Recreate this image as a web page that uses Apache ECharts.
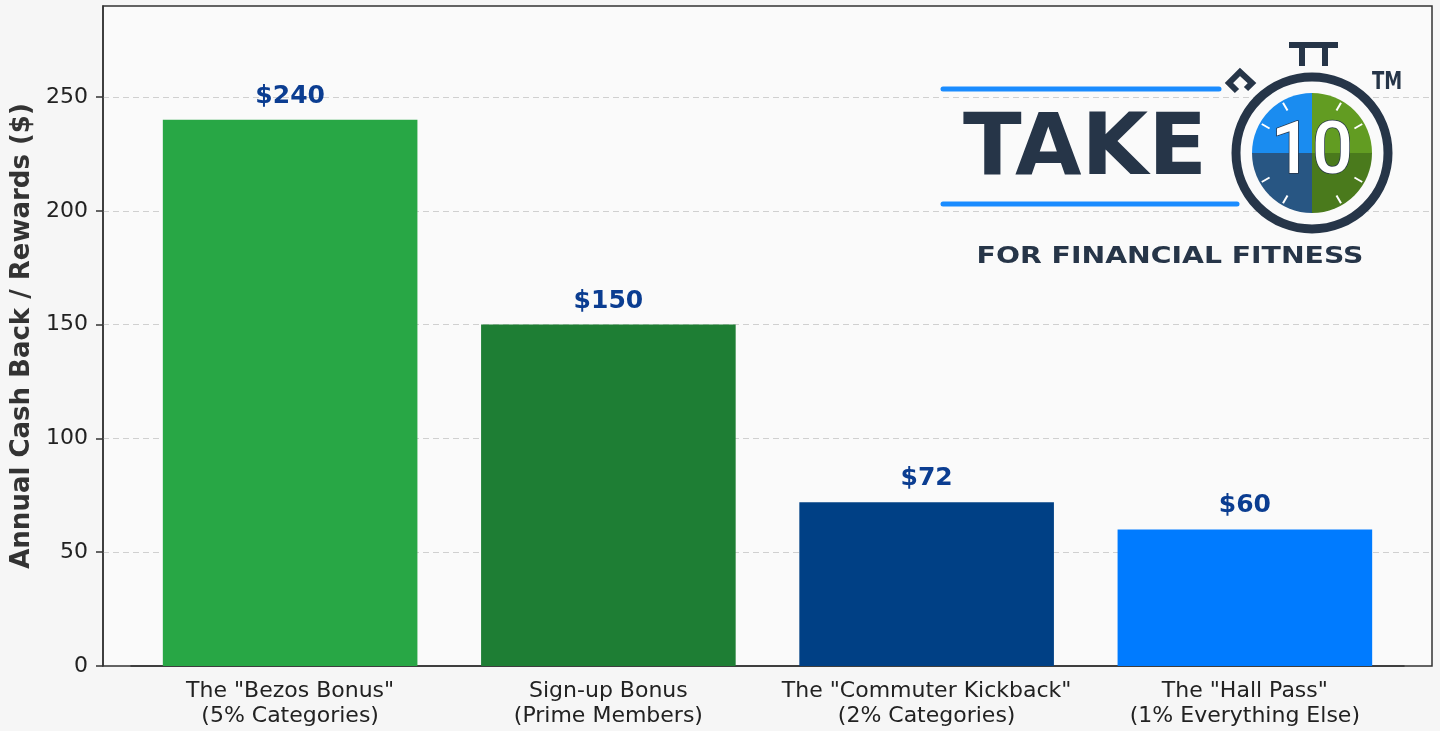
<!DOCTYPE html>
<html>
<head>
    <meta charset="utf-8">
    <title>Cash Back</title>
    <script src="https://cdn.jsdelivr.net/npm/echarts@6/dist/echarts.min.js"></script>
    <style>
        html, body { margin: 0; padding: 0; background: #f6f6f6; }
        #main { width: 1440px; height: 731px; }
    </style>
</head>
<body>
<div id="main"></div>
<script type="text/javascript">
// data
var categories = [
    'The "Bezos Bonus"\n(5% Categories)',
    'Sign-up Bonus\n(Prime Members)',
    'The "Commuter Kickback"\n(2% Categories)',
    'The "Hall Pass"\n(1% Everything Else)'
];
var rewards = [240, 150, 72, 60];
var barColors = ['#28a745', '#1e7e34', '#004085', '#007bff'];
var yTicks = [0, 50, 100, 150, 200, 250];
var yMax = 290;

var font = 'DejaVu Sans';
var dark = '#263548';

// logo: stopwatch ticks every 30 deg (skip the quadrant lines)
var cx = 1312, cy = 153;
var logoTicks = [];
[30, 60, 120, 150, 210, 240, 300, 330].forEach(function (a) {
    var r = a * Math.PI / 180;
    logoTicks.push({
        type: 'line', z: 12,
        shape: { x1: cx + Math.sin(r) * 49, y1: cy - Math.cos(r) * 49, x2: cx + Math.sin(r) * 58, y2: cy - Math.cos(r) * 58 },
        style: { stroke: '#ffffff', lineWidth: 2 }
    });
});

var myChart = echarts.init(document.getElementById('main'));

var option = {
    backgroundColor: '#f6f6f6',
    animation: false,
    grid: [
        { left: 131, right: 36, top: 6, bottom: 65 },
        { left: 103, right: 8, top: 6, bottom: 65, show: true, backgroundColor: '#fafafa', borderColor: '#333', borderWidth: 1.5 }
    ],
    xAxis: [{
        type: 'category',
        gridIndex: 0,
        data: categories,
        axisLine: { show: true, lineStyle: { color: '#333', width: 1.5 } },
        axisTick: { alignWithLabel: true, length: 6, lineStyle: { color: '#333', width: 1.5 } },
        axisLabel: { interval: 0, color: '#222', fontSize: 22, fontFamily: font, lineHeight: 25, margin: 13 }
    }, {
        type: 'value', gridIndex: 1, min: 0, max: 1, show: false
    }],
    yAxis: [{
        type: 'value',
        gridIndex: 0,
        min: 0,
        max: yMax,
        offset: 28,
        name: 'Annual Cash Back / Rewards ($)',
        nameLocation: 'middle',
        nameGap: 62,
        nameTextStyle: { fontSize: 26, fontWeight: 'bold', color: '#333', fontFamily: font },
        axisLine: { show: true, lineStyle: { color: '#333', width: 1.5 } },
        axisTick: { show: true, length: 7, customValues: yTicks, lineStyle: { color: '#333', width: 1.5 } },
        axisLabel: { customValues: yTicks, color: '#222', fontSize: 22, fontFamily: font, margin: 15 },
        splitLine: { show: false }
    }, {
        type: 'value',
        gridIndex: 1,
        min: 0,
        max: yMax,
        interval: 50,
        axisLine: { show: false },
        axisTick: { show: false },
        axisLabel: { show: false },
        splitLine: { show: true, showMinLine: false, showMaxLine: false, lineStyle: { color: '#d0d0d0', type: [6, 4], width: 1 } }
    }],
    series: [{
        type: 'bar',
        xAxisIndex: 0,
        yAxisIndex: 0,
        barWidth: '80%',
        data: rewards.map(function (v, i) {
            return { value: v, itemStyle: { color: barColors[i] } };
        }),
        label: {
            show: true,
            position: 'top',
            distance: 11,
            formatter: function (p) { return '$' + p.value; },
            fontSize: 25,
            fontWeight: 'bold',
            fontFamily: font,
            color: '#0b3d91'
        }
    }],
    graphic: [
        // blue rules
        { type: 'line', z: 10, shape: { x1: 943, y1: 89, x2: 1219, y2: 89 }, style: { stroke: '#1a8cff', lineWidth: 5, lineCap: 'round' } },
        { type: 'line', z: 10, shape: { x1: 943, y1: 204, x2: 1237, y2: 204 }, style: { stroke: '#1a8cff', lineWidth: 5, lineCap: 'round' } },
        // TAKE
        { type: 'text', z: 10, x: 963, y: 152, scaleX: 1.0,
          style: { text: 'TAKE', x: 0, y: 0, fontSize: 86, fontWeight: 'bold', fontFamily: font, fill: dark, textAlign: 'left', textVerticalAlign: 'middle' } },
        // stopwatch ring
        { type: 'circle', z: 10, shape: { cx: cx, cy: cy, r: 76 }, style: { fill: '#fafafa', stroke: dark, lineWidth: 9 } },
        { type: 'sector', z: 11, shape: { cx: cx, cy: cy, r: 60, r0: 0, startAngle: -Math.PI, endAngle: -Math.PI / 2 }, style: { fill: '#1a8cf0' } },
        { type: 'sector', z: 11, shape: { cx: cx, cy: cy, r: 60, r0: 0, startAngle: -Math.PI / 2, endAngle: 0 }, style: { fill: '#629c22' } },
        { type: 'sector', z: 11, shape: { cx: cx, cy: cy, r: 60, r0: 0, startAngle: Math.PI / 2, endAngle: Math.PI }, style: { fill: '#285683' } },
        { type: 'sector', z: 11, shape: { cx: cx, cy: cy, r: 60, r0: 0, startAngle: 0, endAngle: Math.PI / 2 }, style: { fill: '#4a7a1c' } },
        // crown
        { type: 'rect', z: 10, shape: { x: 1289, y: 42, width: 49, height: 6 }, style: { fill: dark } },
        { type: 'rect', z: 10, shape: { x: 1299, y: 42, width: 6, height: 24 }, style: { fill: dark } },
        { type: 'rect', z: 10, shape: { x: 1322, y: 42, width: 6, height: 24 }, style: { fill: dark } },
        // side button
        { type: 'polyline', z: 10, shape: { points: [[1237, 91], [1229, 83], [1240, 72], [1252, 83], [1246, 89]] }, style: { stroke: dark, lineWidth: 6, fill: null, lineJoin: 'miter' } },
        // 10
        { type: 'text', z: 13, x: 1312, y: 155,
          style: { text: '10', x: 0, y: 0, fontSize: 72, fontWeight: 500, fontFamily: 'Roboto', fill: '#ffffff', stroke: dark, lineWidth: 1.5, textAlign: 'center', textVerticalAlign: 'middle' } },
        // TM
        { type: 'text', z: 10, x: 1372, y: 83, scaleX: 0.75,
          style: { text: 'TM', x: 0, y: 0, fontSize: 24, fontWeight: 'bold', fontFamily: font, fill: dark, textAlign: 'left', textVerticalAlign: 'middle' } },
        // tagline
        { type: 'text', z: 10, x: 1170, y: 257, scaleX: 1.23,
          style: { text: 'FOR FINANCIAL FITNESS', x: 0, y: 0, fontSize: 23, fontWeight: 'bold', fontFamily: font, fill: dark, textAlign: 'center', textVerticalAlign: 'middle' } }
    ].concat(logoTicks)
};

myChart.setOption(option);
</script>
</body>
</html>
